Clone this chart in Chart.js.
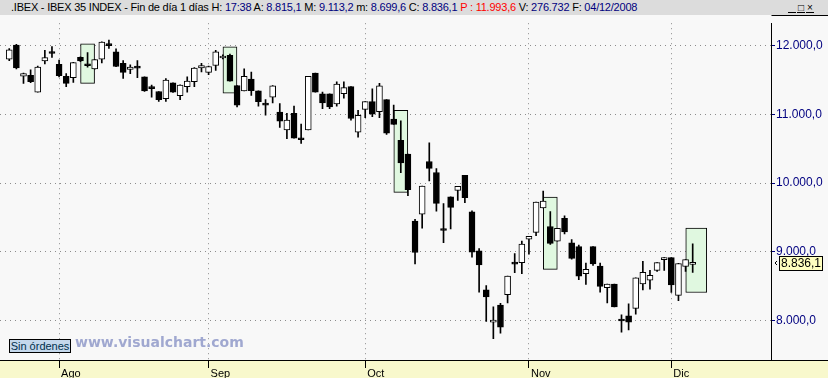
<!DOCTYPE html>
<html>
<head>
<meta charset="utf-8">
<title>IBEX 35 INDEX</title>
<script src="https://cdn.jsdelivr.net/npm/chart.js@4.4.1/dist/chart.umd.min.js"></script>
<style>
  html, body { margin: 0; padding: 0; background: #f8f8f8; }
  #wrap { position: relative; width: 828px; height: 378px; overflow: hidden;
          font-family: "Liberation Sans", Arial, sans-serif; }
  #titlebar { position: absolute; left: 0; top: 0; width: 828px; height: 15px;
              background: #dcdcdc; font-size: 11px; line-height: 15px; white-space: nowrap; }
  #titletext { position: absolute; left: 11px; top: 0; color: #000; letter-spacing: -0.22px; }
  .v { color: #000080; }
  .r { color: #ff0000; }
  #btns { position: absolute; left: 788px; top: 3px; font-size: 10px; line-height: 9px; color: #000; }
  #btns span { display: inline-block; width: 8px; height: 9px; margin-right: 1px; text-align: center;
               border-bottom: 1px solid #000; }
  #chartBox { position: absolute; left: 0; top: 15px; }
  #orders { position: absolute; left: 9px; top: 339px; width: 60px; height: 12px; background: #c4d8ec;
            border: 1px solid #000; font-size: 11px; line-height: 12px; color: #00304c; text-align: center; }
  #stamp { position: absolute; left: 75px; top: 334px; font-family: "DejaVu Sans", Verdana, sans-serif;
           font-weight: bold; font-size: 14px; color: #a0a8d0; white-space: nowrap; }
</style>
</head>
<body>
<div id="wrap">
  <div id="titlebar">
    <div id="titletext"></div>
    <div id="btns"><span>_</span><span>&#9633;</span><span>&#215;</span></div>
  </div>
  <div id="chartBox"><canvas id="ibexChart" width="828" height="363"></canvas></div>
  <div id="orders">Sin órdenes</div>
  <div id="stamp">www.visualchart.com</div>
</div>

<script>
/* IBEX 35 daily candles, 23 Jul 2008 .. 4 Dec 2008 (one entry per session) */
const openVals = [
  11809, 12014, 11559, 11573, 11326, 11781, 11900, 11734, 11559, 11539,
  11834, 11720, 11667, 11809, 12014, 11915, 11748, 11659, 11684, 11549,
  11386, 11336, 11232, 11464, 11275, 11407, 11478, 11681, 11616, 11715,
  11824, 11862, 11421, 11346, 11516, 11346, 11144, 11255, 11037, 10777,
  11018, 10639, 10777, 11606, 11303, 11303, 11155, 11303, 11407, 10743,
  11075, 11189, 11041, 11218, 10933, 10624, 10425, 9448, 9548, 10316,
  10155, 9316, 9799, 9895, 10112, 9582, 9013, 8444, 7974, 8220,
  8373, 8825, 8842, 9183, 9283, 9639, 9368, 9155, 9487, 9131,
  9074, 8680, 9074, 8789, 8476, 8529, 7996, 8064, 8173, 8529,
  8586, 8728, 8885, 8913, 8363, 8785, 8815.1
];
const highVals = [
  11962, 12023, 11606, 11653, 11706, 11937, 11990, 11795, 11596, 11762,
  11841, 11905, 11805, 12061, 12085, 11957, 11787, 11724, 11787, 11549,
  11431, 11336, 11525, 11464, 11435, 11549, 11684, 11748, 11706, 11937,
  11869, 11881, 11421, 11667, 11620, 11346, 11218, 11421, 11161, 11018,
  11122, 10862, 11559, 11606, 11326, 11303, 11478, 11478, 11407, 11061,
  11189, 11374, 11454, 11218, 11137, 10909, 10425, 9472, 9956, 10586,
  10212, 9700, 9799, 9952, 10112, 9596, 9045, 8505, 8196, 8249,
  8643, 8974, 9155, 9226, 9724, 9885, 9586, 9340, 9525, 9178,
  9098, 8836, 9074, 8836, 8529, 8529, 8078, 8239, 8619, 8860,
  8728, 8842, 8913, 8913, 8832, 8885, 9113.2
];
const lowVals = [
  11787, 11667, 11454, 11464, 11326, 11738, 11834, 11549, 11407, 11468,
  11770, 11691, 11663, 11752, 11966, 11698, 11525, 11596, 11539, 11336,
  11255, 11193, 11193, 11321, 11218, 11326, 11407, 11620, 11582, 11644,
  11812, 11485, 11112, 11346, 11279, 11122, 10990, 11169, 10814, 10649,
  10657, 10578, 10777, 11326, 11084, 11084, 11122, 11240, 10919, 10671,
  10956, 10970, 10956, 10710, 10856, 10151, 9818, 8822, 9344, 10031,
  9590, 9131, 9334, 9747, 9714, 8922, 8410, 7983, 7733, 7812,
  8253, 8694, 8680, 8964, 9235, 9639, 9107, 9155, 9259, 8893,
  8594, 8523, 8799, 8410, 8253, 8196, 7826, 7861, 8088, 8444,
  8452, 8714, 8728, 8405, 8287, 8714, 8699.6
];
const closeVals = [
  11943, 11681, 11596, 11478, 11691, 11829, 11890, 11568, 11454, 11758,
  11781, 11711, 11801, 12057, 12004, 11701, 11616, 11691, 11677, 11346,
  11379, 11218, 11502, 11326, 11431, 11488, 11677, 11715, 11701, 11915,
  11852, 11488, 11137, 11559, 11350, 11189, 11137, 11417, 10902, 10919,
  10657, 10632, 11559, 11326, 11169, 11112, 11445, 11393, 10942, 10990,
  11189, 11004, 11417, 10728, 10856, 10293, 9903, 8989, 9956, 10216,
  9704, 9309, 9647, 9952, 9789, 8993, 8808, 8339, 8003, 7898,
  8643, 8818, 9112, 9226, 9724, 9738, 9121, 9340, 9287, 8903,
  8643, 8742, 8822, 8495, 8529, 8196, 7990, 7974, 8619, 8700,
  8657, 8842, 8913, 8515, 8828, 8885, 8836.1
];

// month labels and the session index where each month starts
const monthLabels = ['Ago', 'Sep', 'Oct', 'Nov', 'Dic'];
const monthStartIdx = [7, 28, 50, 73, 93];

// price axis ticks
const yTickValues = [8000, 9000, 10000, 11000, 12000];

// highlighted pattern boxes (session index range, price range)
const boxFrom = [10, 30, 54, 75];
const boxTo   = [12, 32, 56, 77];
const boxLow  = [11454, 11312, 9866, 8742];
const boxHigh = [12032, 11986, 11061, 9795];
// the last one is three sessions wide
const lastBoxFrom = 95, lastBoxTo = 98, lastBoxLow = 8405, lastBoxHigh = 9344;

const headerInfo = { hora: '17:38', p: 11993.6, vol: '276.732', fecha: '04/12/2008' };

// "12.000,0" style numbers
function fmt(v) {
  const parts = v.toFixed(1).split('.');
  const intPart = parts[0].replace(/\B(?=(\d{3})+(?!\d))/g, '.');
  return intPart + ',' + parts[1];
}

const last = closeVals.length - 1;
document.getElementById('titletext').innerHTML =
  '.IBEX - IBEX 35 INDEX - Fin de día 1 días H: <span class="v">' + headerInfo.hora + '</span>' +
  ' A: <span class="v">' + fmt(openVals[last]) + '</span>' +
  ' M: <span class="v">' + fmt(highVals[last]) + '</span>' +
  ' m: <span class="v">' + fmt(lowVals[last]) + '</span>' +
  ' C: <span class="v">' + fmt(closeVals[last]) + '</span>' +
  ' <span class="r">P : ' + fmt(headerInfo.p) + '</span>' +
  ' V: <span class="v">' + headerInfo.vol + '</span>' +
  ' F: <span class="v">' + headerInfo.fecha + '</span>';

const wickData = lowVals.map((lo, i) => ({ x: i, y: [lo, highVals[i]] }));
const bodyData = openVals.map((o, i) => ({ x: i, y: [o, closeVals[i]] }));
const boxData = boxFrom.map((f, i) => ({ x: (f + boxTo[i]) / 2, y: [boxLow[i], boxHigh[i]] }));
const lastBoxData = [{ x: (lastBoxFrom + lastBoxTo) / 2, y: [lastBoxLow, lastBoxHigh] }];

const isUp = (i) => closeVals[i] >= openVals[i];

// background, bottom strip, price tag
const framePlugin = {
  id: 'frame',
  beforeDraw(chart) {
    const { ctx, width, height } = chart;
    const xs = chart.scales.x;
    ctx.save();
    ctx.fillStyle = '#f8f8f8';
    ctx.fillRect(0, 0, width, height);
    ctx.fillStyle = '#f8f8cc';
    ctx.fillRect(0, xs.top, width, height - xs.top);
    ctx.restore();
  },
  afterDraw(chart) {
    const { ctx, width } = chart;
    const xs = chart.scales.x;
    const ys = chart.scales.y;
    ctx.save();
    ctx.strokeStyle = '#000';
    ctx.lineWidth = 1;
    ctx.beginPath();
    ctx.moveTo(0, Math.round(xs.top) + 0.5);
    ctx.lineTo(width, Math.round(xs.top) + 0.5);
    ctx.moveTo(Math.round(ys.left) + 0.5, 0.5);
    ctx.lineTo(width, 0.5);
    ctx.stroke();

    // current price tag
    const py = Math.round(ys.getPixelForValue(closeVals[last]));
    const bx = Math.round(ys.left) + 8;
    ctx.fillStyle = '#ffffc0';
    ctx.fillRect(bx, py - 7, 44, 15);
    ctx.strokeRect(bx + 0.5, py - 6.5, 43, 14);
    ctx.fillStyle = '#000';
    ctx.font = '12px "Liberation Sans", Arial, sans-serif';
    ctx.textBaseline = 'middle';
    ctx.fillText(fmt(closeVals[last]), bx + 2, py + 1);
    ctx.beginPath();
    ctx.moveTo(bx - 2, py - 2);
    ctx.lineTo(bx - 4, py);
    ctx.lineTo(bx - 2, py + 2);
    ctx.stroke();
    ctx.restore();
  }
};

new Chart(document.getElementById('ibexChart'), {
  type: 'bar',
  data: {
    datasets: [
      {
        data: boxData, stack: 'all', order: 3, barThickness: 14,
        backgroundColor: '#e0f8e0', borderColor: '#000', borderWidth: 1, borderSkipped: false
      },
      {
        data: lastBoxData, stack: 'all', order: 3, barThickness: 21,
        backgroundColor: '#e0f8e0', borderColor: '#000', borderWidth: 1, borderSkipped: false
      },
      {
        data: wickData, stack: 'all', order: 2, barThickness: 1,
        backgroundColor: '#000', borderWidth: 0
      },
      {
        data: bodyData, stack: 'all', order: 1, barThickness: 6, minBarLength: 2,
        backgroundColor: (c) => (isUp(c.dataIndex) ? '#ffffff' : '#000000'),
        borderColor: '#000', borderWidth: 1, borderSkipped: false
      }
    ]
  },
  options: {
    responsive: false,
    animation: false,
    events: [],
    layout: { padding: 0 },
    plugins: { legend: { display: false }, tooltip: { enabled: false } },
    scales: {
      x: {
        type: 'linear',
        stacked: true,
        offset: false,
        min: -1.3,
        max: 107,
        afterBuildTicks: (s) => { s.ticks = monthStartIdx.map((v) => ({ value: v })); },
        afterFit: (s) => { s.height = 18; },
        grid: { offset: false, color: '#8c8c8c', tickColor: '#000', tickLength: 8 },
        border: { display: false, dash: [1, 4] },
        ticks: {
          align: 'start',
          labelOffset: 2,
          padding: -1,
          maxRotation: 0,
          autoSkip: false,
          color: '#000',
          font: { family: '"Liberation Sans", Arial, sans-serif', size: 11 },
          callback: (v, i) => monthLabels[i]
        }
      },
      y: {
        position: 'right',
        stacked: false,
        min: 7421,
        max: 12332,
        afterBuildTicks: (s) => { s.ticks = yTickValues.map((v) => ({ value: v })); },
        afterFit: (s) => { s.width = 57; },
        grid: { color: '#8c8c8c', tickColor: '#000080', tickLength: 4 },
        border: { display: true, color: '#000', width: 1, dash: [1, 4] },
        ticks: {
          padding: 1,
          color: '#000080',
          font: { family: '"Liberation Sans", Arial, sans-serif', size: 12 },
          callback: (v) => fmt(v)
        }
      }
    }
  },
  plugins: [framePlugin]
});
</script>
</body>
</html>
